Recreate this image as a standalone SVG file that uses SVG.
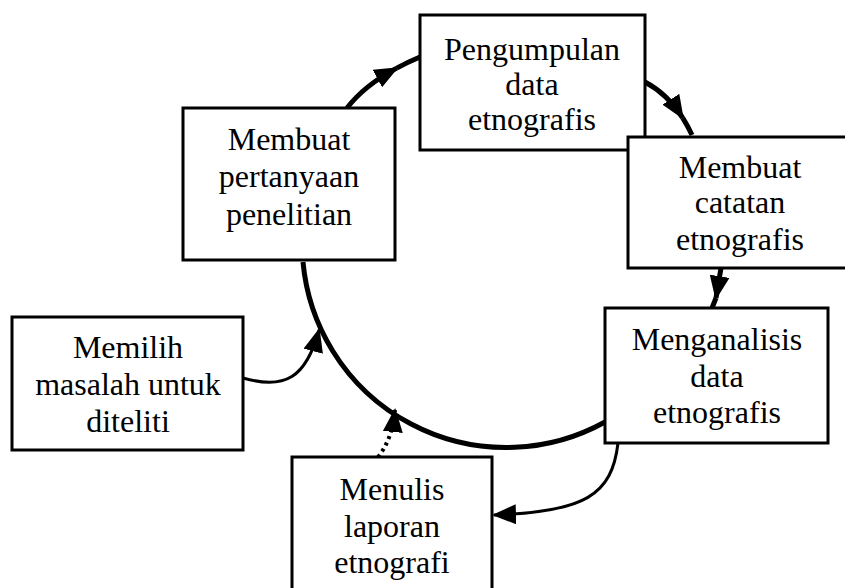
<svg xmlns="http://www.w3.org/2000/svg" width="845" height="588" viewBox="0 0 845 588">
<style>
.box{fill:#fff;stroke:#000;stroke-width:3}
.t{font-family:"Liberation Serif","Times New Roman",serif;font-size:32px;fill:#000;text-anchor:middle}
.main{fill:none;stroke:#000;stroke-width:5}
.thin{fill:none;stroke:#000;stroke-width:3}
.dot{fill:none;stroke:#000;stroke-width:4;stroke-dasharray:3 4}
</style>
<defs>
<marker id="ah" markerWidth="24" markerHeight="20" refX="22" refY="10" orient="auto" markerUnits="userSpaceOnUse">
<path d="M0,0 L24,10 L0,20 Z" fill="#000"/>
</marker>
</defs>
<rect width="845" height="588" fill="#fff"/>
<g id="connectors">
<path class="main" d="M347,108 Q364.25,85.5 396.7,68.1" marker-end="url(#ah)"/>
<path class="main" d="M396.7,68.1 Q407.5,62.25 420,57"/>
<path class="main" d="M645,82 Q667.5,94 682.7,117.8" marker-end="url(#ah)"/>
<path class="main" d="M682.7,117.8 Q687.75,125.75 692,135"/>
<path class="main" d="M721,268 L716,298" marker-end="url(#ah)"/>
<path class="main" d="M716,298 L712,308"/>
<path class="main" d="M605,422 A204,204 0 0 1 303,262"/>
<path class="thin" d="M243,378 C285,390 306,378 319,330" marker-end="url(#ah)"/>
<path class="dot" d="M378,457 Q392,440 395,410" marker-end="url(#ah)"/>
<path class="thin" d="M618,443 C612,495 585,512 494,515" marker-end="url(#ah)"/>
</g>
<g id="n-pengumpulan">
<rect class="box" x="420" y="15" width="225" height="135"/>
<text class="t" x="532" y="60">Pengumpulan</text>
<text class="t" x="532" y="95">data</text>
<text class="t" x="532" y="130">etnografis</text>
</g>
<g id="n-pertanyaan">
<rect class="box" x="183" y="108" width="212" height="152"/>
<text class="t" x="289" y="150">Membuat</text>
<text class="t" x="289" y="187">pertanyaan</text>
<text class="t" x="289" y="225">penelitian</text>
</g>
<g id="n-catatan">
<rect class="box" x="628" y="137" width="230" height="131"/>
<text class="t" x="740" y="178">Membuat</text>
<text class="t" x="740" y="213">catatan</text>
<text class="t" x="740" y="250">etnografis</text>
</g>
<g id="n-menganalisis">
<rect class="box" x="605" y="308" width="223" height="135"/>
<text class="t" x="717" y="350">Menganalisis</text>
<text class="t" x="717" y="387">data</text>
<text class="t" x="717" y="423">etnografis</text>
</g>
<g id="n-memilih">
<rect class="box" x="12" y="317" width="231" height="133"/>
<text class="t" x="128" y="358">Memilih</text>
<text class="t" x="128" y="395">masalah untuk</text>
<text class="t" x="128" y="432">diteliti</text>
</g>
<g id="n-menulis">
<rect class="box" x="292" y="457" width="200" height="140"/>
<text class="t" x="392" y="500">Menulis</text>
<text class="t" x="392" y="537">laporan</text>
<text class="t" x="392" y="573">etnografi</text>
</g>
</svg>
